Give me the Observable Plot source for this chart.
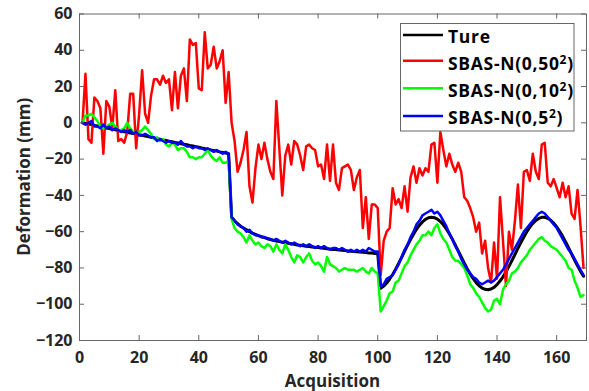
<!DOCTYPE html>
<html><head><meta charset="utf-8">
<script src="https://cdn.jsdelivr.net/npm/d3@7"></script>
<script src="https://cdn.jsdelivr.net/npm/@observablehq/plot@0.6"></script>
<style>body{margin:0;background:#fff}svg{display:block}</style>
</head><body><div id="chart"></div>
<script>
// Acquisition indices 1..169
const acquisition = Array.from({length: 169}, (_, i) => i + 1);
const xTicks = [0, 20, 40, 60, 80, 100, 120, 140, 160];
const yTicks = [-120, -100, -80, -60, -40, -20, 0, 20, 40, 60];
const seriesNames = ["Ture", "SBAS-N(0,50²)", "SBAS-N(0,10²)", "SBAS-N(0,5²)"];
const seriesColors = ["#000000", "#ff0000", "#00ff00", "#0000ff"];

const ture = [
0,-0.3,-0.7,-1.0,-1.4,-1.7,-2.1,-2.4,-2.8,-3.1,
-3.5,-3.8,-4.2,-4.5,-4.9,-5.2,-5.6,-5.9,-6.2,-6.6,
-6.9,-7.3,-7.6,-8.0,-8.3,-8.7,-9.0,-9.4,-9.7,-10.1,
-10.4,-10.8,-11.1,-11.5,-11.8,-12.1,-12.5,-12.8,-13.2,-13.5,
-13.9,-14.2,-14.6,-14.9,-15.3,-15.6,-16.0,-16.3,-16.7,-17.0,
-52,-54,-55.5,-57,-58,-59,-60,-60.8,-61.5,-62.2,
-62.8,-63.3,-63.8,-64.3,-64.7,-65.1,-65.5,-65.8,-66.1,-66.4,
-66.7,-67.0,-67.3,-67.5,-67.8,-68.0,-68.2,-68.4,-68.6,-68.8,
-69.0,-69.2,-69.4,-69.6,-69.8,-69.9,-70.1,-70.3,-70.4,-70.6,
-70.8,-70.9,-71.1,-71.2,-71.4,-71.5,-71.7,-71.8,-72.0,-72.1,
-91.2,-90.0,-88.3,-86.1,-83.6,-80.7,-77.5,-74.3,-70.9,-67.6,
-64.4,-61.4,-58.7,-56.4,-54.6,-53.2,-52.3,-52.0,-52.3,-53.1,
-54.4,-56.2,-58.5,-61.1,-64.1,-67.3,-70.6,-73.9,-77.2,-80.4,
-83.3,-85.9,-88.1,-89.8,-91.1,-91.8,-92.0,-91.6,-90.7,-89.2,
-87.2,-84.9,-82.1,-79.1,-75.9,-72.6,-69.2,-66.0,-62.9,-60.0,
-57.5,-55.4,-53.8,-52.7,-52.1,-52.1,-52.6,-53.7,-55.3,-57.3,
-59.8,-62.6,-65.7,-68.9,-72.3,-75.6,-78.8,-81.9,-84.6
];
const sbas50 = [
0,27,-9,-11,14,12,8,-17,12,9,
-3,18,-10,-9,-11,-5,16,16,-14,5,
29,5,0,15,24,24,21,26,22,24,
7,28,8,26,30,12,46,43,44,19,
18,50,30,32,42,30,34,40,11,28,
0,-10,-27,-22,-15,-5,-35,-44,-25,-12,
-20,-11,-20,-27,-31,12,-14,-40,-18,-12,
-23,-10,-12,-18,-26,-13,-12,-14,-15,-24,
-23,-31,-12,-32,-12,-33,-37,-25,-24,-23,
-26,-37,-30,-26,-58,-41,-64,-45,-45,-47,
-84,-65,-60,-58,-36,-45,-42,-47,-35,-49,
-30,-24,-33,-25,-29,-25,-27,-12,-11,-33,
-5,-15,-24,-17,-23,-27,-22,-27,-41,-43,
-47,-52,-60,-55,-72,-65,-80,-88,-66,-86,
-41,-65,-90,-60,-70,-54,-34,-58,-27,-26,
-32,-17,-27,-31,-12,-11,-33,-35,-31,-36,
-41,-33,-41,-35,-50,-53,-37,-57,-80
];
const sbas10 = [
0,4,4,5,3,1,-2,-3,-2,-1,
0,-2,-4,-4,-3,0,-3,-5,-5,-5,
-4,-2,-4,-6,-9,-8,-10,-9,-12,-13,
-11,-12,-15,-14,-14,-16,-19,-19,-20,-19,
-19,-17,-15,-18,-20,-21,-19,-22,-22,-21,
-53,-58,-60,-61,-63,-66,-62,-65,-67,-66,
-68,-69,-67,-68,-71,-67,-70,-72,-67,-70,
-74,-77,-73,-74,-77,-74,-72,-76,-78,-77,
-79,-82,-74,-78,-79,-80,-82,-81,-80,-81,
-81,-81,-82,-81,-80,-82,-83,-80,-82,-83,
-104,-101,-98,-94,-93,-88,-87,-83,-79,-77,
-73,-70,-67,-65,-62,-62,-60,-62,-58,-56,
-61,-64,-66,-70,-74,-76,-76,-78,-80,-84,
-89,-91,-94,-96,-99,-102,-104,-103,-98,-97,
-100,-92,-89,-87,-83,-82,-80,-77,-75,-73,
-70,-68,-66,-64,-63,-65,-66,-68,-69,-70,
-72,-74,-76,-80,-81,-87,-91,-96,-95
];
const sbas5 = [
0,-1,0,1,-2,-2,-3,-1,-3,-2,
-4,-3,-4,-5,-4,-5,-4,-6,-5,-7,
-7,-6,-7,-8,-8,-10,-9,-10,-11,-10,
-11,-11,-12,-10,-12,-13,-13,-14,-13,-14,
-14,-15,-14,-15,-16,-15,-16,-17,-16,-17,
-52,-54,-56,-57,-58,-60,-59,-61,-62,-62,
-63,-63,-64,-64,-65,-64,-65,-66,-65,-66,
-67,-66,-67,-68,-67,-68,-67,-68,-69,-68,
-69,-68,-69,-70,-69,-69,-70,-69,-70,-71,
-70,-71,-70,-71,-70,-71,-69,-70,-71,-71,
-90,-89,-86,-85,-84,-81,-78,-74,-70,-67,
-63,-60,-56,-54,-51,-50,-49,-48,-50,-49,
-51,-54,-57,-61,-64,-68,-71,-75,-78,-81,
-83,-85,-86,-88,-89,-88,-87,-88,-87,-85,
-83,-81,-78,-75,-72,-69,-66,-63,-60,-58,
-56,-54,-52,-50,-49,-50,-52,-54,-56,-58,
-61,-64,-67,-70,-72,-75,-78,-81,-84
];

const seriesValues = [ture, sbas50, sbas10, sbas5];
const rows = seriesValues.flatMap((vals, s) =>
  vals.map((v, i) => ({x: acquisition[i], y: v, s})));

const W = 589, H = 391;
const ML = 79, MR = 3, MT = 13.5, MB = 51;
const FW = W - ML - MR, FH = H - MT - MB;
const font = "'Open Sans', 'DejaVu Sans', sans-serif";
const axisColor = "#262626";
const frameColor = "#666";

const chart = Plot.plot({
  width: W, height: H,
  marginLeft: ML, marginRight: MR, marginTop: MT, marginBottom: MB,
  style: {fontFamily: font, fontWeight: "bold", fontSize: "16px", color: axisColor, background: "#fff", overflow: "visible"},
  x: {domain: [0, 170], label: null},
  y: {domain: [-120, 60], label: null},
  marks: [
    ...[0, 1, 2, 3].map(s => Plot.line(rows.filter(d => d.s === s), {
      x: "x", y: "y", stroke: seriesColors[s], strokeWidth: s === 0 ? 3 : 2.5,
      strokeLinejoin: "round", strokeLinecap: "round"
    })),
    Plot.ruleX(xTicks, {x: d => d, insetTop: FH - 5, stroke: frameColor}),
    Plot.ruleX(xTicks, {x: d => d, insetBottom: FH - 5, stroke: frameColor}),
    Plot.ruleY(yTicks, {y: d => d, insetRight: FW - 5, stroke: frameColor}),
    Plot.ruleY(yTicks, {y: d => d, insetLeft: FW - 5, stroke: frameColor}),
    Plot.frame({stroke: frameColor, strokeWidth: 1}),
    Plot.axisX({ticks: xTicks, tickSize: 0, tickPadding: 11, fontSize: 16, fontWeight: "bold", label: null}),
    Plot.axisY({ticks: yTicks, tickSize: 0, tickPadding: 7, fontSize: 16, fontWeight: "bold", label: null})
  ]
});
document.getElementById("chart").append(chart);

const svg = d3.select(chart);
// axis titles
svg.append("text").attr("x", ML + FW / 2).attr("y", 386.5)
  .attr("text-anchor", "middle").attr("font-family", font).attr("font-weight", "bold")
  .attr("font-size", 17).attr("fill", axisColor).text("Acquisition");
svg.append("text").attr("transform", `translate(30,${MT + FH / 2}) rotate(-90)`)
  .attr("text-anchor", "middle").attr("font-family", font).attr("font-weight", "bold")
  .attr("font-size", 17).attr("fill", axisColor).text("Deformation (mm)");

// legend
const lg = svg.append("g").attr("text-anchor", "start");
lg.append("rect").attr("x", 400.5).attr("y", 23.5).attr("width", 173.5).attr("height", 107.5)
  .attr("fill", "#fff").attr("stroke", frameColor).attr("stroke-width", 1);
const lineYs = [35, 60.7, 88.3, 116];
const baseYs = [43.3, 70, 97.3, 124];
seriesNames.forEach((name, i) => {
  lg.append("line").attr("x1", 403).attr("x2", 443).attr("y1", lineYs[i]).attr("y2", lineYs[i])
    .attr("stroke", seriesColors[i]).attr("stroke-width", 2.6);
  const t = lg.append("text").attr("x", 448).attr("y", baseYs[i]).attr("text-anchor", "start")
    .attr("font-family", font).attr("font-weight", "bold").attr("font-size", 17.5)
    .attr("letter-spacing", 0.7).attr("fill", "#000");
  const m = name.match(/^(.*)²(\))$/);
  if (m) {
    t.append("tspan").text(m[1]);
    t.append("tspan").attr("dy", -6.5).attr("font-size", 12).text("2");
    t.append("tspan").attr("dy", 6.5).text(m[2]);
  } else {
    t.text(name);
  }
});
</script>
</body></html>
